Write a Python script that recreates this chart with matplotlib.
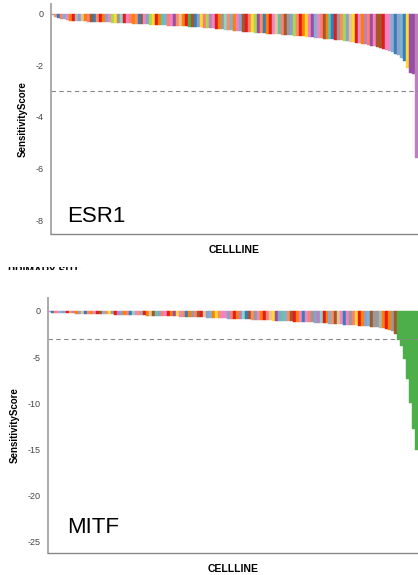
import matplotlib
matplotlib.use("Agg")
import matplotlib.pyplot as plt

plt.rcParams['font.family'] = ['Liberation Sans', 'DejaVu Sans']
plt.rcParams['axes.unicode_minus'] = False

# --- lineage colour palette (one letter per lineage) ---
PALETTE = {
    'a': '#e41a1c', 'b': '#377eb8', 'c': '#4daf4a', 'd': '#984ea3',
    'e': '#ff7f00', 'f': '#ffd92f', 'g': '#a65628', 'h': '#f781bf',
    'i': '#999999', 'j': '#66c2a5', 'k': '#fc8d62', 'l': '#8da0cb',
    'm': '#e78ac3', 'n': '#a6d854', 'o': '#e5c494', 'p': '#b3b3b3',
    'q': '#bc80bd', 'r': '#80b1d3', 's': '#fb8072', 't': '#8dd3c7',
}

# --- ESR1 sensitivity scores, sorted ---
esr1_scores = [
    -0.05, -0.14, -0.17, -0.20, -0.22, -0.24, -0.26, -0.27, -0.28, -0.28,
    -0.29, -0.29, -0.30, -0.30, -0.31, -0.31, -0.32, -0.32, -0.33, -0.33,
    -0.34, -0.34, -0.35, -0.35, -0.36, -0.36, -0.37, -0.38, -0.38, -0.39,
    -0.39, -0.40, -0.41, -0.42, -0.42, -0.43, -0.44, -0.44, -0.45, -0.46,
    -0.46, -0.47, -0.47, -0.48, -0.48, -0.49, -0.50, -0.50, -0.51, -0.52,
    -0.53, -0.54, -0.55, -0.56, -0.57, -0.58, -0.59, -0.60, -0.61, -0.62,
    -0.64, -0.65, -0.67, -0.68, -0.69, -0.70, -0.71, -0.72, -0.73, -0.74,
    -0.75, -0.76, -0.77, -0.77, -0.78, -0.79, -0.80, -0.81, -0.83, -0.84,
    -0.84, -0.85, -0.86, -0.87, -0.88, -0.89, -0.90, -0.91, -0.92, -0.94,
    -0.95, -0.96, -0.97, -0.98, -0.99, -1.00, -1.02, -1.03, -1.05, -1.07,
    -1.09, -1.11, -1.13, -1.15, -1.17, -1.19, -1.21, -1.24, -1.26, -1.29,
    -1.32, -1.35, -1.39, -1.43, -1.48, -1.54, -1.61, -1.70, -1.85, -2.10,
    -2.30, -2.35, -5.60,
]
esr1_lineage = ("lkbsrmeapl" "oesgbkaelm" "nfitahsekb" "gmlnfaejrs"
                "hdkoeacgbl" "fsnqmaeitk" "rehlgasfnd" "kbeamojsgi"
                "lnkaefhdrm" "sgejbaiknl" "ofameqsdhg" "gahmrblrbf" "ddq")

# --- MITF sensitivity scores, sorted ---
mitf_scores = [
    -0.10, -0.18, -0.20, -0.22, -0.23, -0.24, -0.25, -0.26, -0.27, -0.28,
    -0.29, -0.30, -0.30, -0.31, -0.32, -0.33, -0.34, -0.35, -0.35, -0.36,
    -0.37, -0.38, -0.39, -0.40, -0.41, -0.42, -0.43, -0.44, -0.45, -0.46,
    -0.47, -0.48, -0.49, -0.50, -0.51, -0.52, -0.53, -0.54, -0.55, -0.56,
    -0.57, -0.58, -0.59, -0.60, -0.61, -0.62, -0.63, -0.64, -0.65, -0.66,
    -0.68, -0.69, -0.70, -0.72, -0.73, -0.74, -0.76, -0.77, -0.78, -0.80,
    -0.82, -0.83, -0.85, -0.86, -0.88, -0.89, -0.91, -0.92, -0.94, -0.95,
    -0.97, -0.98, -1.00, -1.01, -1.03, -1.04, -1.06, -1.07, -1.09, -1.10,
    -1.12, -1.14, -1.15, -1.17, -1.19, -1.20, -1.22, -1.24, -1.25, -1.27,
    -1.29, -1.31, -1.33, -1.35, -1.37, -1.39, -1.41, -1.43, -1.45, -1.48,
    -1.50, -1.52, -1.55, -1.57, -1.60, -1.62, -1.65, -1.68, -1.71, -1.75,
    -1.79, -1.83, -1.88, -1.94, -2.02, -2.15, -2.45,
    -3.10, -3.80, -5.20, -7.40, -10.0, -12.8, -15.0,
]
mitf_lineage = ("hbsmrlakqe" "lobsemagrk" "fiaqlesbtm" "kraeogjlsh"
                "aedfmkbeis" "gaolrefkhm" "lsaeqtbgki" "measofdljr"
                "kgaehbmsil" "qtaerkgomb" "hisfaelrgi" "ipeaeig" "ccccccc")

PANELS = [
    # name, scores, lineage, rect, ylim, yticks, label pos
    ("ESR1", esr1_scores, esr1_lineage, [51/418, 1 - 234/575, 367/418, 230/575],
     (-8.54, 0.38), [0, -2, -4, -6, -8], (0.044, 0.052)),
    ("MITF", mitf_scores, mitf_lineage, [48/418, 1 - 553/575, 370/418, 255/575],
     (-26.2, 1.4), [0, -5, -10, -15, -20, -25], (0.051, 0.078)),
]
THRESHOLD = -3

fig = plt.figure(figsize=(4.18, 5.75), dpi=100)

for name, scores, lineage, rect, ylim, yticks, (tx, ty) in PANELS:
    ax = fig.add_axes(rect)
    cols = [PALETTE[c] for c in lineage]
    ax.bar(range(len(scores)), scores, width=1.0, color=cols,
           edgecolor=cols, linewidth=0.3)
    ax.axhline(THRESHOLD, color='#888888', linestyle=(0, (4, 3)), linewidth=0.8)
    ax.set_xlim(-0.5, len(scores) - 0.5)
    ax.set_ylim(*ylim)
    ax.set_yticks(yticks)
    ax.set_xticks([])
    ax.tick_params(axis='y', length=0, pad=5, labelsize=6.5, labelcolor='#444444')
    for s in ('top', 'right'):
        ax.spines[s].set_visible(False)
    ax.spines['left'].set_color('#aaaaaa')
    ax.spines['left'].set_linewidth(1.4)
    ax.spines['bottom'].set_color('#888888')
    ax.spines['bottom'].set_linewidth(1.0)
    ax.set_ylabel('SensitivityScore', fontsize=7, fontweight='bold', labelpad=6)
    ax.set_xlabel('CELLLINE', fontsize=7.5, fontweight='bold', labelpad=8)
    ax.text(tx, ty, name, transform=ax.transAxes, fontsize=16, color='black')

# heading between the panels, mostly hidden: only a thin strip shows
strip = fig.add_axes([0, 1 - 270/575, 0.3, 3/575])
strip.axis('off')
strip.text(8/125.4, -1.2, 'PRIMARY SITE', transform=strip.transAxes,
           fontsize=7.5, fontweight='bold', va='baseline', clip_on=True)

fig.savefig('out.png', dpi=100)
